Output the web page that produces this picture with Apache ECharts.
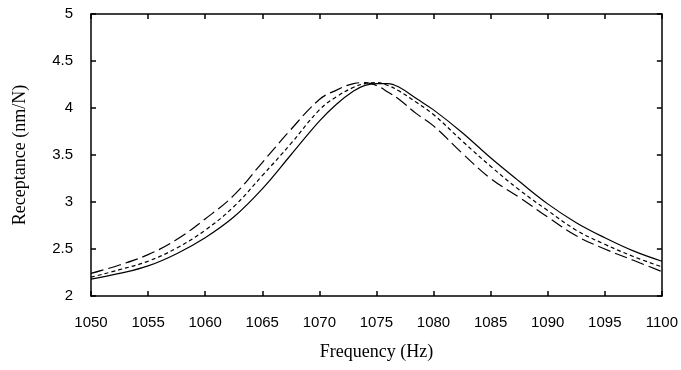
<!DOCTYPE html>
<html>
<head>
<meta charset="utf-8">
<script src="https://cdn.jsdelivr.net/npm/echarts@6/dist/echarts.min.js"></script>
<style>html,body{margin:0;padding:0;background:#fff}#c{width:681px;height:370px}</style>
</head>
<body>
<div id="c"></div>
<script>
var freq = [1050, 1052.5, 1055, 1057.5, 1060, 1062.5, 1065, 1067.5, 1070, 1071.5, 1073, 1074, 1075, 1076, 1077, 1078.5, 1080, 1082.5, 1085, 1087.5, 1090, 1092.5, 1095, 1097.5, 1100];
var solidVals = [2.18, 2.24, 2.32, 2.45, 2.62, 2.84, 3.14, 3.50, 3.86, 4.04, 4.18, 4.24, 4.26, 4.26, 4.22, 4.10, 3.98, 3.74, 3.47, 3.22, 2.98, 2.78, 2.62, 2.48, 2.37];
var shortDashVals = [2.20, 2.28, 2.37, 2.51, 2.70, 2.95, 3.28, 3.62, 3.98, 4.12, 4.22, 4.26, 4.27, 4.24, 4.18, 4.06, 3.93, 3.65, 3.38, 3.13, 2.91, 2.70, 2.55, 2.42, 2.31];
var longDashVals = [2.24, 2.33, 2.44, 2.60, 2.82, 3.07, 3.42, 3.77, 4.09, 4.19, 4.26, 4.27, 4.24, 4.17, 4.09, 3.94, 3.81, 3.52, 3.25, 3.05, 2.84, 2.64, 2.50, 2.38, 2.26];
var xLabel = 'Frequency (Hz)';
var yLabel = 'Receptance (nm/N)';

function pairs(vals){ return freq.map(function(f,i){ return [f, vals[i]]; }); }

var chart = echarts.init(document.getElementById('c'), null, {renderer:'canvas'});
var axisLine = {show:true, lineStyle:{color:'#000', width:1.5}};
var tick = {show:true, inside:true, length:5, lineStyle:{color:'#000', width:1.5}};
var lblFont = {color:'#000', fontFamily:'Liberation Sans, Arial, sans-serif', fontSize:15};
chart.setOption({
  animation:false,
  backgroundColor:'#fff',
  grid:{left:91, right:18, top:14, bottom:74},
  xAxis:[
    {type:'value', min:1050, max:1100, interval:5, position:'bottom',
     axisLine:axisLine, axisTick:tick, splitLine:{show:false},
     axisLabel:Object.assign({margin:19, formatter:function(v){return String(v);}}, lblFont),
     name:xLabel, nameLocation:'middle', nameGap:47,
     nameTextStyle:{color:'#000', fontFamily:'Liberation Serif, Times New Roman, serif', fontSize:18}},
    {type:'value', min:1050, max:1100, interval:5, position:'top',
     axisLine:axisLine, axisTick:tick, splitLine:{show:false}, axisLabel:{show:false}}
  ],
  yAxis:[
    {type:'value', min:2, max:5, interval:0.5, position:'left',
     axisLine:axisLine, axisTick:tick, splitLine:{show:false},
     axisLabel:Object.assign({margin:18}, lblFont),
     name:yLabel, nameLocation:'middle', nameGap:62,
     nameTextStyle:{color:'#000', fontFamily:'Liberation Serif, Times New Roman, serif', fontSize:18}},
    {type:'value', min:2, max:5, interval:0.5, position:'right',
     axisLine:axisLine, axisTick:tick, splitLine:{show:false}, axisLabel:{show:false}}
  ],
  series:[
    {type:'line', data:pairs(solidVals), smooth:0.4, symbol:'none', lineStyle:{color:'#000', width:1.2, type:'solid'}},
    {type:'line', data:pairs(shortDashVals), smooth:0.4, symbol:'none', lineStyle:{color:'#000', width:1.2, type:[4,3]}},
    {type:'line', data:pairs(longDashVals), smooth:0.4, symbol:'none', lineStyle:{color:'#000', width:1.2, type:[13,5]}}
  ]
});
</script>
</body>
</html>
